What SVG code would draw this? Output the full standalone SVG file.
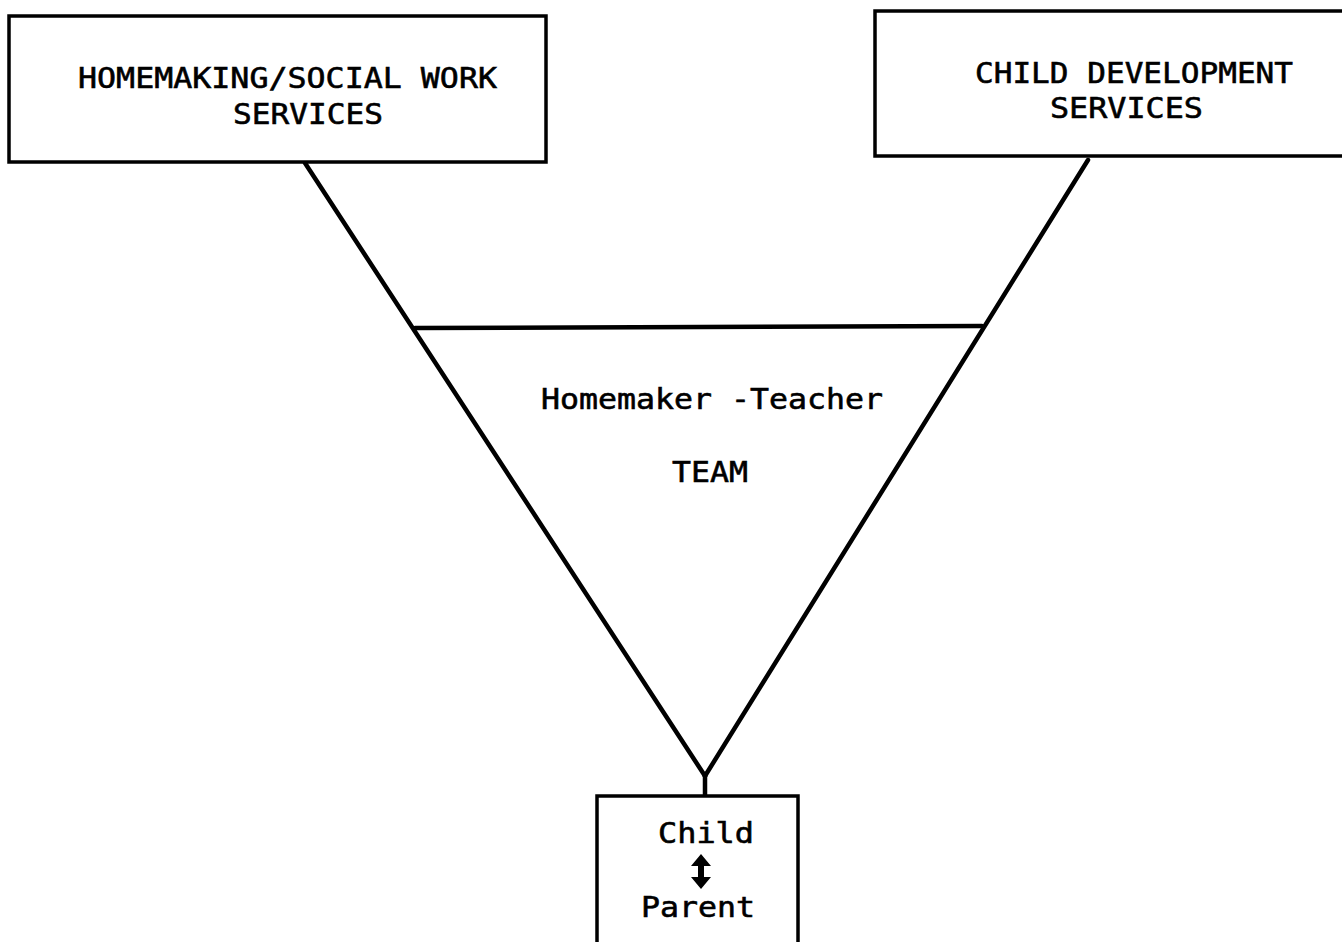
<svg xmlns="http://www.w3.org/2000/svg" width="1342" height="942" viewBox="0 0 1342 942">
<style>
.box{fill:#fff;stroke:#000;stroke-width:3.5}
.ln{stroke:#000;stroke-width:4.5;fill:none;stroke-linecap:round}
.t{font-family:"DejaVu Sans Mono","Liberation Mono",monospace;font-size:29px;fill:#000;stroke:#000;stroke-width:0.6}
</style>
<rect width="1342" height="942" fill="#fff"/>
<g id="connectors">
<line class="ln" x1="305" y1="163" x2="705" y2="776"/>
<line class="ln" x1="1088" y1="160" x2="705" y2="776"/>
<line class="ln" x1="705" y1="774" x2="705" y2="796"/>
<line class="ln" x1="415" y1="328" x2="982" y2="326" stroke-width="3.5"/>
</g>
<g id="homemaking">
<rect class="box" x="9" y="16" width="537" height="146"/>
<text class="t" x="78" y="88" textLength="419" lengthAdjust="spacingAndGlyphs">HOMEMAKING/SOCIAL WORK</text>
<text class="t" x="233" y="124" textLength="150" lengthAdjust="spacingAndGlyphs">SERVICES</text>
</g>
<g id="childdev">
<rect class="box" x="875" y="11" width="480" height="145"/>
<text class="t" x="975" y="83" textLength="318" lengthAdjust="spacingAndGlyphs">CHILD DEVELOPMENT</text>
<text class="t" x="1050" y="118" textLength="153" lengthAdjust="spacingAndGlyphs">SERVICES</text>
</g>
<g id="team">
<text class="t" x="541" y="409" textLength="342" lengthAdjust="spacingAndGlyphs">Homemaker -Teacher</text>
<text class="t" x="672" y="482" textLength="76" lengthAdjust="spacingAndGlyphs">TEAM</text>
</g>
<g id="childparent">
<rect class="box" x="597" y="796" width="201" height="150"/>
<text class="t" x="658" y="843" textLength="96" lengthAdjust="spacingAndGlyphs">Child</text>
<path d="M701 854 L691 866 L698 866 L698 877 L691 877 L701 889 L711 877 L704 877 L704 866 L711 866 Z" fill="#000"/>
<text class="t" x="641" y="917" textLength="114" lengthAdjust="spacingAndGlyphs">Parent</text>
</g>
</svg>
